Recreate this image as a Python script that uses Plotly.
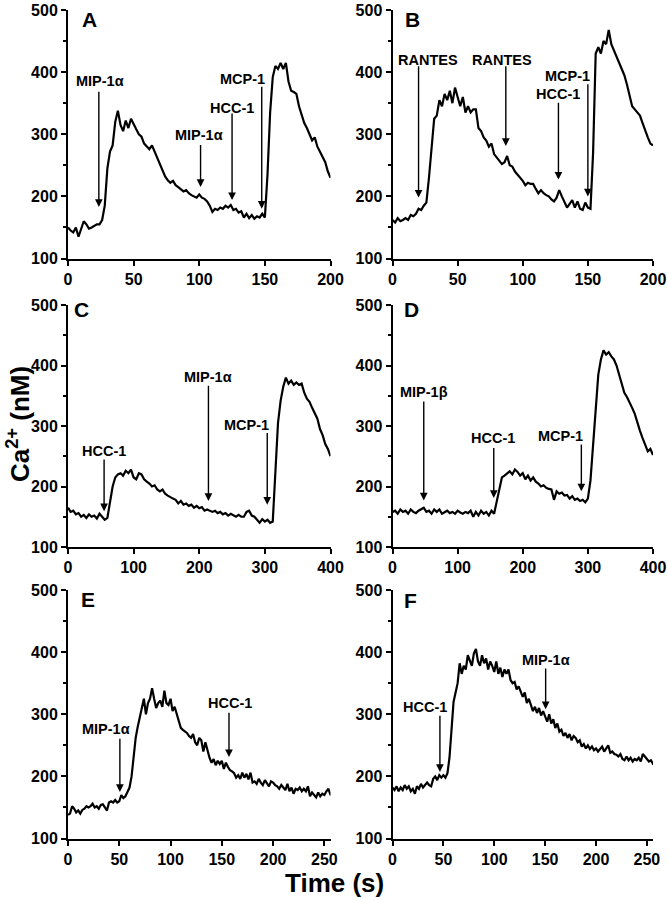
import plotly.graph_objects as go

# ---------------- data ----------------
panel_letters = ["A", "B", "C", "D", "E", "F"]

# sampling grids (s)
tA = list(range(0, 201, 2))
tB = list(range(0, 201, 2))
tC = list(range(0, 401, 4))
tD = list(range(0, 401, 4))
tE = list(range(0, 261, 2))
tF = list(range(0, 261, 2))

caA = [150,145,142,150,135,148,160,155,148,150,152,155,155,162,185,245,272,282,320,338,
       315,305,322,310,325,315,308,300,296,285,280,276,282,272,262,255,245,232,226,222,
       225,218,215,212,208,210,205,202,200,198,203,198,196,192,185,175,180,178,182,180,
       185,182,186,178,180,174,176,166,172,165,170,164,168,166,172,166,235,335,392,410,
       405,415,405,415,385,370,368,365,345,330,318,310,300,290,295,280,272,262,255,240,230]

caB = [162,158,165,160,162,165,162,170,168,172,180,178,185,190,230,280,325,330,355,345,
       365,355,370,350,375,360,345,360,335,345,335,340,340,310,305,295,290,280,285,268,
       262,258,252,255,265,250,248,240,235,230,225,218,222,220,220,212,205,210,205,202,
       200,195,192,198,210,200,190,182,188,194,182,192,180,178,190,182,180,270,430,440,
       430,450,445,468,445,435,425,415,405,395,380,360,345,340,335,330,318,305,295,285,282]

caC = [165,158,160,154,156,150,153,148,154,150,
       152,147,155,150,145,148,175,200,215,220,
       222,218,226,222,228,215,212,222,220,212,
       208,205,200,202,195,192,195,188,185,182,
       180,178,172,176,170,172,168,170,165,168,
       164,166,160,162,160,158,160,156,158,154,
       156,152,155,152,150,153,150,150,158,160,
       152,150,145,140,146,142,145,140,142,220,
       305,342,365,380,370,375,368,372,368,370,
       355,345,340,330,320,312,295,285,270,262,
       250]

caD = [158,160,155,162,158,160,155,162,158,156,
       160,162,165,158,160,155,162,158,162,155,
       158,160,156,158,155,160,157,155,158,156,
       160,150,158,152,160,155,158,152,160,155,
       175,195,215,218,222,225,220,228,224,218,
       222,212,218,210,215,208,205,200,202,198,
       196,195,178,192,188,190,185,186,180,184,
       178,180,176,178,174,180,210,270,335,385,
       410,425,418,422,415,410,400,385,370,355,
       348,340,330,320,305,292,280,268,258,262,
       252]

caE = [138,140,152,148,142,145,140,146,148,152,150,152,156,150,152,148,154,155,150,145,
       158,160,158,162,158,160,170,165,168,175,182,200,235,262,280,295,310,325,300,318,
       325,342,325,310,318,322,312,338,318,315,325,305,312,300,290,278,275,272,270,265,
       262,268,255,250,262,258,240,255,242,230,222,228,218,225,220,225,212,222,215,210,
       208,205,198,202,196,206,198,204,195,206,190,192,188,196,190,186,194,188,184,192,
       190,186,184,180,186,182,178,188,176,182,172,180,178,182,176,180,176,184,168,174,
       170,166,174,168,172,170,176,180,170,174,168]

caF = [182,178,184,176,182,178,186,180,184,176,180,172,184,180,188,182,186,190,186,184,
       196,200,194,202,198,202,198,205,230,280,320,335,350,382,365,378,372,395,385,378,
       398,405,385,378,395,382,390,372,385,378,368,385,365,375,360,372,365,372,355,350,
       352,340,345,335,328,335,318,325,315,305,312,302,310,298,305,295,288,300,285,292,
       278,285,272,275,265,270,262,268,258,265,262,255,258,248,252,245,250,244,248,242,
       245,240,244,248,240,245,250,238,240,236,235,232,236,228,226,232,226,230,224,228,
       226,230,224,236,232,228,224,226,220,218,214]

times = [tA, tB, tC, tD, tE, tF]
values = [caA, caB, caC, caD, caE, caF]
x_ranges = [[0, 200], [0, 200], [0, 400], [0, 400], [0, 256], [0, 256]]
x_dticks = [50, 50, 100, 100, 50, 50]

# stimulus labels: (panel index, text, label x, label y)
labels = [
    (0, "MIP-1α", 24, 386), (0, "MIP-1α", 100, 299), (0, "HCC-1", 125, 342), (0, "MCP-1", 133, 389),
    (1, "RANTES", 27, 420), (1, "RANTES", 84, 420), (1, "MCP-1", 134, 394), (1, "HCC-1", 127, 364),
    (2, "HCC-1", 55, 258), (2, "MIP-1α", 214, 381), (2, "MCP-1", 272, 302),
    (3, "MIP-1β", 48, 357), (3, "HCC-1", 155, 280), (3, "MCP-1", 258, 283),
    (4, "MIP-1α", 37, 276), (4, "HCC-1", 158, 318),
    (5, "HCC-1", 32, 311), (5, "MIP-1α", 151, 388),
]
# arrows: (panel index, x, tail y, tip y)
arrows = [
    (0, 23.5, 371, 183), (0, 101, 285, 215), (0, 125, 336, 194), (0, 147.6, 379, 180),
    (1, 20, 412, 198), (1, 87, 412, 281), (1, 127.4, 353, 227), (1, 150, 383, 200),
    (2, 55, 247, 159), (2, 214, 369, 176), (2, 303.6, 291, 170),
    (3, 48, 343, 177), (3, 155.5, 266, 181), (3, 290, 272, 192),
    (4, 50.6, 263, 175), (4, 157, 305, 231),
    (5, 46.6, 300, 207), (5, 150.5, 376, 308),
]

# ---------------- layout ----------------
W, H = 668, 900
col_dom = [[68 / W, 330.5 / W], [392.5 / W, 653 / W]]
row_dom = [[1 - 258.5 / H, 1 - 10 / H], [1 - 547 / H, 1 - 305 / H], [1 - 838.5 / H, 1 - 590 / H]]
letter_pos = [(80, 6), (403, 6), (72, 296), (402, 296), (79, 586), (402, 587)]

FONT = "Liberation Sans, Arial, Helvetica, sans-serif"

fig = go.Figure()
layout = dict(
    width=W, height=H, margin=dict(l=0, r=0, t=0, b=0, autoexpand=False),
    paper_bgcolor="white", plot_bgcolor="white", showlegend=False,
    font=dict(family=FONT, color="black"),
)
annotations = []

for i in range(6):
    r, c = divmod(i, 2)
    suffix = "" if i == 0 else str(i + 1)
    xa, ya = "x" + suffix, "y" + suffix
    fig.add_trace(go.Scatter(x=times[i], y=values[i], mode="lines",
                             line=dict(color="black", width=2.2),
                             xaxis=xa, yaxis=ya, hoverinfo="skip"))
    layout["xaxis" + suffix] = dict(
        domain=col_dom[c], anchor=ya, range=x_ranges[i], dtick=x_dticks[i], tick0=0,
        automargin=False,
        showline=True, linecolor="black", linewidth=2, ticks="outside", ticklen=5,
        tickwidth=2, tickcolor="black", showgrid=False, zeroline=False,
        tickprefix="<b>", ticksuffix="</b>",
        tickfont=dict(family=FONT, size=16, color="black"),
    )
    layout["yaxis" + suffix] = dict(
        domain=row_dom[r], anchor=xa, range=[100, 500], dtick=100, tick0=0,
        automargin=False,
        showline=True, linecolor="black", linewidth=2, ticks="outside", ticklen=5,
        tickwidth=2, tickcolor="black", showgrid=False, zeroline=False,
        minor=dict(dtick=50, ticks="outside", ticklen=3, tickwidth=1.5, tickcolor="black", showgrid=False),
        tickprefix="<b>", ticksuffix="</b>",
        tickfont=dict(family=FONT, size=16, color="black"),
    )
    lx, ly = letter_pos[i]
    annotations.append(dict(xref="paper", yref="paper", x=lx / W, y=1 - ly / H,
                            xanchor="left", yanchor="top", showarrow=False,
                            text="<b>" + panel_letters[i] + "</b>",
                            font=dict(family=FONT, size=21, color="black")))

for (p, txt, lx, ly) in labels:
    suffix = "" if p == 0 else str(p + 1)
    annotations.append(dict(xref="x" + suffix, yref="y" + suffix, x=lx, y=ly, text="<b>" + txt + "</b>",
                            showarrow=False, xanchor="center", yanchor="middle",
                            font=dict(family=FONT, size=14.5, color="black")))

for (p, ax_, tail, tip) in arrows:
    suffix = "" if p == 0 else str(p + 1)
    annotations.append(dict(xref="x" + suffix, yref="y" + suffix, x=ax_, y=tip,
                            axref="x" + suffix, ayref="y" + suffix, ax=ax_, ay=tail,
                            text="", showarrow=True, arrowhead=2, arrowsize=1.1,
                            arrowwidth=1.4, arrowcolor="black"))

annotations.append(dict(xref="paper", yref="paper", x=19 / W, y=1 - 424 / H,
                        text="<b>Ca<sup>2+</sup> (nM)</b>", textangle=-90, showarrow=False,
                        xanchor="center", yanchor="middle",
                        font=dict(family=FONT, size=26, color="black")))
annotations.append(dict(xref="paper", yref="paper", x=334 / W, y=1 - 883 / H,
                        text="<b>Time (s)</b>", showarrow=False, xanchor="center", yanchor="middle",
                        font=dict(family=FONT, size=26, color="black")))

layout["annotations"] = annotations
fig.update_layout(**layout)
fig.write_html("out.html", config={"displayModeBar": False},
               post_script="document.body.style.margin='0';document.body.style.overflow='hidden';")
